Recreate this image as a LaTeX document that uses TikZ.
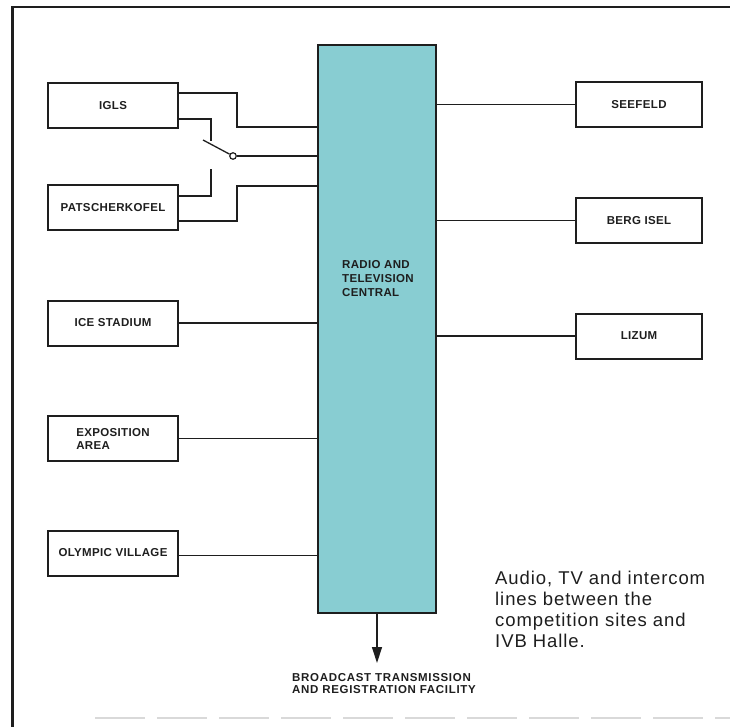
\documentclass[tikz,border=0pt]{standalone}
\usepackage{fontspec}
\setmainfont{Liberation Sans}
\newfontfamily\capfont[LetterSpace=5]{Liberation Sans}
\newfontfamily\lblfont[LetterSpace=3]{Liberation Sans}
\newfontfamily\widefont[LetterSpace=6]{Liberation Sans}
\usetikzlibrary{arrows.meta,calc}
\definecolor{centralfill}{RGB}{136,205,210}
\definecolor{inkc}{RGB}{30,30,30}
\begin{document}
\begin{tikzpicture}[x=1pt,y=-1pt,
  site/.style={draw=inkc,line width=2pt,minimum width=130pt,minimum height=45pt,inner sep=0pt,
    font=\lblfont\bfseries\fontsize{11.5}{13}\selectfont,align=center,text=inkc},
  rsite/.style={site,minimum width=126pt},
  wire/.style={draw=inkc,line width=1.3pt},
  smalltext/.style={anchor=north west,inner sep=0pt,align=left,text=inkc},
]
\useasboundingbox (0,0) rectangle (730,727);
% frame
\draw[inkc,line width=2.5pt] (730,7) -- (12.5,7) -- (12.5,727);
\draw[gray!30,line width=1.5pt,dash pattern=on 50pt off 12pt] (95,718) -- (730,718);

% central box
\node[draw=inkc,line width=2.5pt,fill=centralfill,minimum width=118pt,minimum height=568pt,inner sep=0pt] (central) at (377,329) {};
\node[smalltext,font=\lblfont\bfseries\fontsize{11.5}{14}\selectfont] (clabel) at (342,260.5) {RADIO AND\\TELEVISION\\CENTRAL};

% left sites
\node[site] (igls) at (113,105.5) {IGLS};
\node[site] (patsch) at (113,207.5) {PATSCHERKOFEL};
\node[site] (ice) at (113,323) {ICE STADIUM};
\node[site,align=left] (expo) at (113,438.5) {EXPOSITION\\AREA};
\node[site] (olymp) at (113,553) {OLYMPIC VILLAGE};

% right sites
\node[rsite] (seefeld) at (639,104.5) {SEEFELD};
\node[rsite] (berg) at (639,220.5) {BERG ISEL};
\node[rsite] (lizum) at (639,336) {LIZUM};

% right connectors
\draw[wire] (seefeld.west) -- (seefeld.west -| central.east);
\draw[wire] (berg.west) -- (berg.west -| central.east);
\draw[wire] (lizum.west) -- (lizum.west -| central.east);

% left connectors
\draw[wire] (ice.east) -- (ice.east -| central.west);
\draw[wire] (expo.east) -- (expo.east -| central.west);
\draw[wire] ([yshift=-2.5pt]olymp.east) -- ([yshift=-2.5pt]olymp.east -| central.west);

% switch network
\coordinate (j1) at (237,127);
\coordinate (c1) at (211,141);
\coordinate (c2) at (211,169);
\coordinate (j2) at (237,186);
\coordinate (blade) at (203,140);
\node[circle,draw=inkc,fill=white,inner sep=0pt,minimum size=6.5pt,line width=1.2pt] (pivot) at (233,156) {};
\draw[wire] ([yshift=12.5pt]igls.east) -| (j1) -- (j1 -| central.west);
\draw[wire] ([yshift=-13.5pt]igls.east) -| (c1);
\draw[wire] (blade) -- (pivot);
\draw[wire] (pivot) -- (pivot -| central.west);
\draw[wire] ([yshift=11.5pt]patsch.east) -| (c2);
\draw[wire] ([yshift=-13.5pt]patsch.east) -| (j2) -- (j2 -| central.west);

% output arrow
\coordinate (out) at (377,663);
\draw[wire,-{Triangle[width=10pt,length=16pt]}] (central.south) -- (out);
\node[smalltext,font=\widefont\bfseries\fontsize{11.5}{12.7}\selectfont] (bcast) at (292,673) {BROADCAST TRANSMISSION\\AND REGISTRATION FACILITY};

% caption
\node[smalltext,font=\capfont\fontsize{18.5}{21}\selectfont] (caption) at (495,571) {Audio, TV and intercom\\lines between the\\competition sites and\\IVB Halle.};
\end{tikzpicture}
\end{document}
